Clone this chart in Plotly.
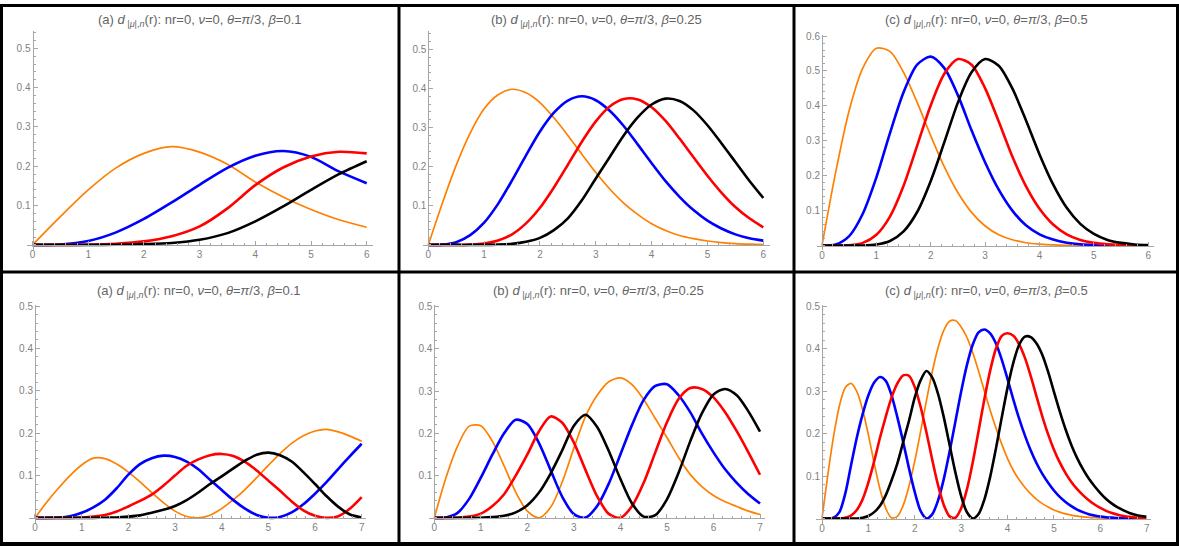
import plotly.graph_objects as go

W, H = 1179, 546

# ---------------- data: radial densities d(r) for four states per panel ----------------
R_TOP_A = [0, 0.5, 1, 1.5, 2, 2.5, 3, 3.5, 4, 4.5, 5, 5.5, 6]
TOP_A_ORANGE = [0, 0.072, 0.14, 0.196, 0.233, 0.25, 0.236, 0.205, 0.16, 0.122, 0.09, 0.064, 0.045]
TOP_A_BLUE = [0, 0.001, 0.01, 0.032, 0.066, 0.108, 0.153, 0.196, 0.227, 0.239, 0.224, 0.187, 0.157]
TOP_A_RED = [0, 0, 0.0005, 0.003, 0.009, 0.022, 0.047, 0.093, 0.152, 0.197, 0.225, 0.237, 0.233]
TOP_A_BLACK = [0, 0, 0, 0.0005, 0.002, 0.005, 0.013, 0.03, 0.06, 0.098, 0.14, 0.18, 0.213]

R_TOP_B = [0, 0.25, 0.5, 0.75, 1, 1.25, 1.5, 1.75, 2, 2.25, 2.5, 2.75, 3, 3.25, 3.5, 3.75,
           4, 4.25, 4.5, 4.75, 5, 5.25, 5.5, 5.75, 6]
TOP_B_ORANGE = [0, 0.106, 0.204, 0.286, 0.348, 0.384, 0.398, 0.389, 0.364, 0.325, 0.28, 0.232, 0.185,
                0.143, 0.107, 0.078, 0.054, 0.037, 0.024, 0.016, 0.01, 0.006, 0.0035, 0.002, 0.001]
TOP_B_BLUE = [0, 0.0008, 0.007, 0.025, 0.057, 0.105, 0.165, 0.229, 0.29, 0.338, 0.369, 0.38, 0.37,
              0.343, 0.304, 0.257, 0.209, 0.163, 0.123, 0.089, 0.062, 0.042, 0.027, 0.017, 0.011]
TOP_B_RED = [0, 0, 0.0001, 0.0008, 0.0037, 0.0114, 0.027, 0.055, 0.095, 0.147, 0.205, 0.264, 0.316,
             0.354, 0.373, 0.372, 0.352, 0.317, 0.272, 0.224, 0.177, 0.134, 0.097, 0.068, 0.045]
TOP_B_BLACK = [0, 0, 0, 0, 0.0001, 0.0007, 0.0027, 0.008, 0.018, 0.038, 0.068, 0.114, 0.17,
               0.225, 0.28, 0.326, 0.359, 0.374, 0.368, 0.344, 0.306, 0.26, 0.212, 0.164, 0.12]

R_TOP_C = R_TOP_B
TOP_C_ORANGE = [0, 0.209, 0.387, 0.508, 0.565, 0.556, 0.496, 0.41, 0.314, 0.225, 0.151, 0.095, 0.056,
                0.031, 0.0165, 0.008, 0.004, 0.0017, 0.0007, 0.0003, 0, 0, 0, 0, 0]
TOP_C_BLUE = [0, 0.003, 0.027, 0.091, 0.195, 0.322, 0.439, 0.518, 0.541, 0.508, 0.43, 0.33, 0.238,
              0.16, 0.1, 0.058, 0.032, 0.017, 0.008, 0.0035, 0.0015, 0.0006, 0.0002, 0, 0]
TOP_C_RED = [0, 0, 0.0009, 0.0075, 0.031, 0.083, 0.171, 0.286, 0.402, 0.492, 0.534, 0.518, 0.45,
             0.355, 0.255, 0.17, 0.105, 0.06, 0.032, 0.016, 0.0075, 0.0035, 0.0015, 0.0006, 0.0002]
TOP_C_BLACK = [0, 0, 0, 0, 0.0028, 0.013, 0.0405, 0.096, 0.185, 0.296, 0.41, 0.496, 0.534,
               0.515, 0.45, 0.359, 0.261, 0.175, 0.108, 0.062, 0.033, 0.016, 0.0075, 0.003, 0.0012]

R_BOT_A = [0, 0.25, 0.5, 0.75, 1, 1.25, 1.5, 1.75, 2, 2.25, 2.5, 2.75, 3, 3.25, 3.5, 3.75,
           4, 4.25, 4.5, 4.75, 5, 5.25, 5.5, 5.75, 6, 6.25, 6.5, 6.75, 7]
BOT_A_ORANGE = [0, 0.037, 0.07, 0.1, 0.125, 0.141, 0.14, 0.127, 0.108, 0.085, 0.06, 0.036, 0.016, 0.0033,
                0.0001, 0.0064, 0.022, 0.043, 0.067, 0.095, 0.124, 0.152, 0.176, 0.194, 0.205, 0.209,
                0.203, 0.193, 0.181]
BOT_A_BLUE = [0, 0, 0.001, 0.004, 0.012, 0.025, 0.043, 0.07, 0.102, 0.127, 0.141, 0.147, 0.144, 0.133,
              0.115, 0.09, 0.066, 0.042, 0.022, 0.007, 0.0003, 0.0022, 0.013, 0.032, 0.057, 0.085,
              0.116, 0.146, 0.175]
BOT_A_RED = [0, 0, 0, 0, 0.001, 0.003, 0.007, 0.015, 0.027, 0.04, 0.055, 0.076, 0.1, 0.123, 0.138,
             0.148, 0.151, 0.146, 0.132, 0.112, 0.088, 0.064, 0.039, 0.018, 0.005, 0.0001, 0.004,
             0.022, 0.049]
BOT_A_BLACK = [0, 0, 0, 0, 0, 0, 0.0005, 0.001, 0.003, 0.006, 0.012, 0.019, 0.028, 0.042, 0.06, 0.08,
               0.098, 0.117, 0.135, 0.149, 0.154, 0.148, 0.133, 0.108, 0.08, 0.051, 0.026, 0.008, 0.001]

R_BOT_B = R_BOT_A
BOT_B_ORANGE = [0, 0.095, 0.17, 0.217, 0.218, 0.181, 0.123, 0.061, 0.016, 0.0001, 0.025, 0.085, 0.165,
                0.24, 0.29, 0.322, 0.331, 0.315, 0.28, 0.235, 0.19, 0.143, 0.103, 0.074, 0.053, 0.038,
                0.027, 0.016, 0.008]
BOT_B_BLUE = [0, 0.001, 0.012, 0.045, 0.095, 0.15, 0.2, 0.232, 0.222, 0.177, 0.113, 0.05, 0.009, 0.0008,
              0.028, 0.081, 0.15, 0.22, 0.279, 0.312, 0.316, 0.29, 0.25, 0.2, 0.155, 0.115, 0.083,
              0.056, 0.034]
BOT_B_RED = [0, 0, 0.0005, 0.003, 0.01, 0.028, 0.056, 0.1, 0.15, 0.205, 0.24, 0.225, 0.178, 0.113,
             0.051, 0.0095, 0.0003, 0.028, 0.083, 0.155, 0.226, 0.281, 0.307, 0.305, 0.285, 0.25,
             0.205, 0.155, 0.102]
BOT_B_BLACK = [0, 0, 0, 0, 0.0005, 0.002, 0.005, 0.013, 0.03, 0.06, 0.105, 0.16, 0.218, 0.244, 0.215,
               0.158, 0.092, 0.034, 0.003, 0.0065, 0.044, 0.107, 0.181, 0.247, 0.292, 0.305, 0.29,
               0.252, 0.204]

R_BOT_C = [0, 0.125, 0.25, 0.375, 0.5, 0.625, 0.75, 0.875, 1, 1.125, 1.25, 1.375, 1.5, 1.625, 1.75,
           1.875, 2, 2.125, 2.25, 2.375, 2.5, 2.625, 2.75, 2.875, 3, 3.125, 3.25, 3.375, 3.5, 3.625,
           3.75, 3.875, 4, 4.125, 4.25, 4.375, 4.5, 4.625, 4.75, 4.875, 5, 5.125, 5.25, 5.375, 5.5,
           5.625, 5.75, 5.875, 6, 6.125, 6.25, 6.375, 6.5, 6.625, 6.75, 6.875, 7]
BOT_C_ORANGE = [0, 0.1025, 0.194, 0.265, 0.308, 0.318, 0.299, 0.256, 0.197, 0.13, 0.069, 0.0236, 0.0014,
                0.005, 0.031, 0.076, 0.1355, 0.2046, 0.2767, 0.3443, 0.4015, 0.443, 0.4645, 0.466,
                0.451, 0.426, 0.39, 0.347, 0.3, 0.255, 0.213, 0.175, 0.141, 0.113, 0.091, 0.073, 0.058,
                0.045, 0.035, 0.027, 0.02, 0.015, 0.011, 0.008, 0.0055, 0.004, 0.0027, 0.0018, 0.0012,
                0.0007, 0.0004, 0.0002, 0, 0, 0, 0, 0]
BOT_C_BLUE = [0, 0, 0.002, 0.015, 0.058, 0.125, 0.19, 0.245, 0.29, 0.32, 0.333, 0.324, 0.29, 0.238,
              0.18, 0.118, 0.062, 0.018, 0.0002, 0.0098, 0.042, 0.0927, 0.157, 0.228, 0.299, 0.3617,
              0.4095, 0.438, 0.445, 0.436, 0.412, 0.374, 0.328, 0.28, 0.235, 0.195, 0.16, 0.13, 0.105,
              0.084, 0.066, 0.051, 0.039, 0.029, 0.021, 0.015, 0.01, 0.007, 0.0045, 0.003, 0.002,
              0.001, 0.0005, 0, 0, 0, 0]
BOT_C_RED = [0, 0, 0, 0, 0.002, 0.007, 0.02, 0.045, 0.085, 0.135, 0.19, 0.24, 0.285, 0.318, 0.337,
             0.336, 0.309, 0.263, 0.2035, 0.139, 0.079, 0.032, 0.005, 0.0017, 0.024, 0.069, 0.1325,
             0.206, 0.2807, 0.348, 0.4, 0.43, 0.436, 0.43, 0.41, 0.378, 0.335, 0.287, 0.24, 0.198,
             0.162, 0.132, 0.107, 0.086, 0.069, 0.055, 0.043, 0.033, 0.025, 0.018, 0.013, 0.009,
             0.006, 0.004, 0.0025, 0.0015, 0.001]
BOT_C_BLACK = [0, 0, 0, 0, 0, 0, 0, 0.002, 0.006, 0.015, 0.03, 0.055, 0.09, 0.13, 0.18, 0.23, 0.285,
               0.325, 0.347, 0.332, 0.294, 0.2386, 0.1735, 0.1085, 0.0527, 0.0147, 0.0001, 0.0105,
               0.0445, 0.098, 0.165, 0.238, 0.308, 0.367, 0.409, 0.428, 0.427, 0.412, 0.385, 0.345,
               0.298, 0.252, 0.21, 0.173, 0.142, 0.116, 0.094, 0.076, 0.06, 0.046, 0.035, 0.026, 0.019,
               0.013, 0.009, 0.006, 0.004]

TITLE_TAIL = "(r): nr=0, <i>ν</i>=0, <i>θ</i>=<i>π</i>/3, <i>β</i>="
D_SYM = "<i>d</i><sub> |<i>μ</i>|,<i>n</i></sub>"
TITLES = ["(a) " + D_SYM + TITLE_TAIL + "0.1", "(b) " + D_SYM + TITLE_TAIL + "0.25",
          "(c) " + D_SYM + TITLE_TAIL + "0.5", "(a) " + D_SYM + TITLE_TAIL + "0.1",
          "(b) " + D_SYM + TITLE_TAIL + "0.25", "(c) " + D_SYM + TITLE_TAIL + "0.5"]

X_TICKS_6 = [0, 1, 2, 3, 4, 5, 6]
X_TICKS_7 = [0, 1, 2, 3, 4, 5, 6, 7]
Y_TICKS_5 = [0.1, 0.2, 0.3, 0.4, 0.5]
Y_TICKS_6 = [0.1, 0.2, 0.3, 0.4, 0.5, 0.6]

# ---------------- styling ----------------
ORANGE, BLUE, RED, BLACK = "#ff8000", "#0000ff", "#ff0000", "#000000"
AXIS_GRAY = "#a6a6a6"
LABEL_GRAY = "#7f7f7f"
TITLE_GRAY = "#646464"
FONT = "Liberation Sans, Arial, sans-serif"

# pixel geometry per panel: r=0 pixel, px per unit r, r range, d=0 pixel, px per unit d, d range
PANELS = [
    dict(r=R_TOP_A, c=[TOP_A_ORANGE, TOP_A_BLUE, TOP_A_RED, TOP_A_BLACK],
         x0=32.5, sx=55.7, xr=(-0.1, 6.12), y0=242.7, sy=396, yr=(-0.012, 0.545),
         xt=X_TICKS_6, yt=Y_TICKS_5, tx=199.5, ty=17, rl=6.3),
    dict(r=R_TOP_B, c=[TOP_B_ORANGE, TOP_B_BLUE, TOP_B_RED, TOP_B_BLACK],
         x0=428.3, sx=55.83, xr=(-0.1, 6.12), y0=242.7, sy=394, yr=(-0.012, 0.548),
         xt=X_TICKS_6, yt=Y_TICKS_5, tx=596, ty=17, rl=6.3),
    dict(r=R_TOP_C, c=[TOP_C_ORANGE, TOP_C_BLUE, TOP_C_RED, TOP_C_BLACK],
         x0=822, sx=54.38, xr=(-0.1, 6.1), y0=243.3, sy=351.7, yr=(-0.012, 0.604),
         xt=X_TICKS_6, yt=Y_TICKS_6, tx=986, ty=17, rl=6.3),
    dict(r=R_BOT_A, c=[BOT_A_ORANGE, BOT_A_BLUE, BOT_A_RED, BOT_A_BLACK],
         x0=35, sx=46.67, xr=(-0.12, 7.1), y0=517.7, sy=426.8, yr=(-0.012, 0.503),
         xt=X_TICKS_7, yt=Y_TICKS_5, tx=199, ty=290, rl=7.32),
    dict(r=R_BOT_B, c=[BOT_B_ORANGE, BOT_B_BLUE, BOT_B_RED, BOT_B_BLACK],
         x0=434.3, sx=46.53, xr=(-0.12, 7.1), y0=517.7, sy=426, yr=(-0.012, 0.503),
         xt=X_TICKS_7, yt=Y_TICKS_5, tx=598, ty=290, rl=7.32),
    dict(r=R_BOT_C, c=[BOT_C_ORANGE, BOT_C_BLUE, BOT_C_RED, BOT_C_BLACK],
         x0=822, sx=46.39, xr=(-0.12, 7.1), y0=518.3, sy=428, yr=(-0.012, 0.503),
         xt=X_TICKS_7, yt=Y_TICKS_5, tx=986, ty=290, rl=7.32),
]
CURVE_STYLE = [(ORANGE, 1.7), (BLUE, 2.6), (RED, 2.6), (BLACK, 2.6)]

fig = go.Figure()
layout = dict(width=W, height=H, margin=dict(l=0, r=0, t=0, b=0),
              paper_bgcolor="white", plot_bgcolor="rgba(0,0,0,0)", showlegend=False)
annotations = []

for i, p in enumerate(PANELS, start=1):
    sfx = "" if i == 1 else str(i)
    xL = p["x0"] + p["xr"][0] * p["sx"]
    xR = p["x0"] + p["xr"][1] * p["sx"]
    yT = p["y0"] - p["yr"][1] * p["sy"]
    yB = p["y0"] - p["yr"][0] * p["sy"]
    tickfont = dict(family=FONT, size=10, color=LABEL_GRAY)
    layout["xaxis" + sfx] = dict(
        domain=[xL / W, xR / W], range=list(p["xr"]), anchor="free", position=1 - p["y0"] / H,
        showline=True, linecolor=AXIS_GRAY, linewidth=1, showgrid=False, zeroline=False,
        tickmode="array", tickvals=p["xt"], ticks="inside", ticklen=4, tickcolor=AXIS_GRAY,
        tickwidth=1, tickfont=tickfont,
        minor=dict(tickmode="linear", tick0=0, dtick=0.2, ticks="inside", ticklen=2,
                   tickcolor=AXIS_GRAY, showgrid=False),
        fixedrange=True)
    layout["yaxis" + sfx] = dict(
        domain=[1 - yB / H, 1 - yT / H], range=list(p["yr"]), anchor="free", position=p["x0"] / W,
        showline=True, linecolor=AXIS_GRAY, linewidth=1, showgrid=False, zeroline=False,
        tickmode="array", tickvals=p["yt"], ticks="inside", ticklen=4, tickcolor=AXIS_GRAY,
        tickwidth=1, tickfont=tickfont,
        minor=dict(tickmode="linear", tick0=0, dtick=0.02, ticks="inside", ticklen=2,
                   tickcolor=AXIS_GRAY, showgrid=False),
        fixedrange=True)
    for vals, (col, wid) in zip(p["c"], CURVE_STYLE):
        fig.add_trace(go.Scatter(x=p["r"], y=vals, mode="lines", xaxis="x" + sfx, yaxis="y" + sfx,
                                 line=dict(color=col, width=wid, shape="spline", smoothing=0.8),
                                 hoverinfo="skip"))
    annotations.append(dict(text=TITLES[i - 1], xref="paper", yref="paper", x=p["tx"] / W,
                            y=1 - p["ty"] / H, xanchor="center", yanchor="middle", showarrow=False,
                            font=dict(family=FONT, size=13, color=TITLE_GRAY)))
    annotations.append(dict(text="r", xref="x" + sfx, yref="y" + sfx, x=p["rl"], y=0,
                            xanchor="center", yanchor="middle", showarrow=False,
                            font=dict(family=FONT, size=11, color=LABEL_GRAY)))

# frame and cell separators
shapes = []


def hline(py, x_a, x_b, w):
    shapes.append(dict(type="line", xref="paper", yref="paper", x0=x_a / W, x1=x_b / W,
                       y0=1 - py / H, y1=1 - py / H, line=dict(color="black", width=w)))


def vline(px, y_a, y_b, w):
    shapes.append(dict(type="line", xref="paper", yref="paper", x0=px / W, x1=px / W,
                       y0=1 - y_a / H, y1=1 - y_b / H, line=dict(color="black", width=w)))


hline(1.5, 0, W, 3)
hline(H - 2, 0, W, 4)
hline(270, 0, W, 3)
vline(1.5, 0, H, 3)
vline(W - 1.5, 0, H, 3)
vline(399, 0, H, 3)
vline(794, 0, H, 3)

layout["annotations"] = annotations
layout["shapes"] = shapes
fig.update_layout(**layout)
fig.write_html("out.html")
